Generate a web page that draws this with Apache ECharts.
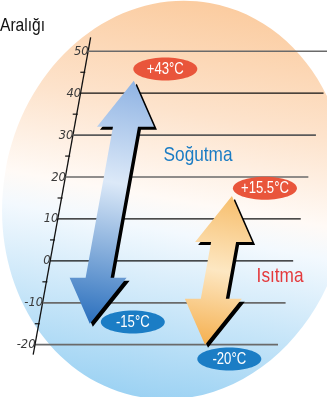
<!DOCTYPE html>
<html><head><meta charset="utf-8">
<script src="https://cdn.jsdelivr.net/npm/echarts@6/dist/echarts.min.js"></script>
<style>html,body{margin:0;padding:0;background:#fff;overflow:hidden}#c{width:327px;height:397px}</style>
</head><body><div id="c"></div>
<script>
// ---- data ----
const titleText = 'Aralığı';
const modes = ['Soğutma', 'Isıtma'];
const rangeMax = [43, 15.5];
const rangeMin = [-15, -20];
const maxLabels = ['+43°C', '+15.5°C'];
const minLabels = ['-15°C', '-20°C'];
const tickValues = [-20, -10, 0, 10, 20, 30, 40, 50];
const tickLabels = ['-20', '-10', '0', '10', '20', '30', '40', '50'];
const minorTickValues = [-15, -5, 5, 15, 25, 35, 45];

// ---- style / layout ----
const Y_MIN = -20, Y_MAX = 50;
const SKEW = 0.181;               // x shift per pixel of height (slanted axis)
const LINE_LEN = 243;             // gridline length (px)
const lineColors = ['#6a6a6a', '#6a6a6a', '#111', '#111', '#6a6a6a', '#5a5a5a', '#111', '#6a6a6a'];
const lineWidths = [1.8, 1.8, 1.2, 1.2, 1.6, 1.6, 1.2, 1.6];
const laneU = [51, 170];
const HEAD_PX = 46, HEAD_HW = 28.5, SHAFT_HW = 12.5;
const arrowStops = [
  [[0, '#8fb3e3'], [0.42, '#dce9f8'], [1, '#2a6fbd']],
  [[0, '#f7be6c'], [0.5, '#fde7c2'], [1, '#f5b050']]
];
const maxLabelColor = '#e9553b', minLabelColor = '#1b7dc5';
const maxLabelOff = [[31.5, -11.7], [33, -7.6]];
const minLabelOff = [[43, -1.7], [24.3, 14.3]];
const modeText = [{ dv: 25.3, du: 77.7, color: '#1a7cc4' }, { dv: -3.6, du: 62.6, color: '#e4393c' }];
const NARROW = "'Liberation Sans',Arial,sans-serif";
const CONDENSE = 0.82;

function sp(api, u, v) {
  const p = api.coord([u, v]);
  const b = api.coord([0, Y_MIN]);
  return [p[0] + SKEW * (b[1] - p[1]), p[1]];
}
function txt(x, y, text, font, fill, align, valign, sx) {
  return { type: 'text', x, y, scaleX: sx || 1,
    style: { x: 0, y: 0, text, font, fill, align, textAlign: align, verticalAlign: valign, textVerticalAlign: valign } };
}

const chart = echarts.init(document.getElementById('c'), null, { renderer: 'canvas' });
chart.setOption({
  animation: false,
  backgroundColor: '#fff',
  graphic: [{
    type: 'ellipse', x: 175, y: 200, rotation: -0.1745, z: -10,
    shape: { cx: 0, cy: 0, rx: 172, ry: 200 },
    style: { fill: new echarts.graphic.LinearGradient(0, 0, 0, 1, [
      { offset: 0, color: '#fbcca0' }, { offset: 0.28, color: '#fde3cc' },
      { offset: 0.5, color: '#fffaf6' }, { offset: 0.58, color: '#f3f9fe' },
      { offset: 1, color: '#9cd2f3' }]) }
  }, {
    type: 'text', x: 0, y: 26, scaleX: CONDENSE, z: 10,
    style: { x: 0, y: 0, text: titleText, font: '19px ' + NARROW, fill: '#111', align: 'left', textAlign: 'left', verticalAlign: 'middle', textVerticalAlign: 'middle' }
  }],
  grid: { left: 35, top: 51.3, width: LINE_LEN, height: 293.4 },
  xAxis: { type: 'value', min: 0, max: LINE_LEN, show: false },
  yAxis: { type: 'value', min: Y_MIN, max: Y_MAX, interval: 10, show: false },
  series: [
    { // gridlines + labels + slanted axis
      type: 'custom', clip: false, z: 2,
      data: tickValues.map(v => [0, v]),
      renderItem(params, api) {
        const v = api.value(1), i = params.dataIndex;
        const a = sp(api, 0, v), e = sp(api, LINE_LEN, v);
        const ch = [
          { type: 'line', shape: { x1: a[0], y1: a[1], x2: e[0], y2: e[1] }, style: { stroke: lineColors[i], lineWidth: lineWidths[i] } },
          txt(a[0] + 0.5, a[1] + 0.5, tickLabels[i], "italic 11.5px 'DejaVu Sans'", '#3a3a3a', 'right', 'middle')
        ];
        if (i === 0) {
          const ppu = api.size([0, 1])[1];
          const t = sp(api, 0, Y_MAX + 14 / ppu), b = sp(api, 0, Y_MIN - 10 / ppu);
          ch.push({ type: 'line', shape: { x1: t[0], y1: t[1], x2: b[0], y2: b[1] }, style: { stroke: '#111', lineWidth: 1.3 } });
        }
        return { type: 'group', children: ch };
      }
    },
    { // minor ticks
      type: 'custom', clip: false, z: 2,
      data: minorTickValues.map(v => [0, v]),
      renderItem(params, api) {
        const a = sp(api, 0, api.value(1));
        return { type: 'line', shape: { x1: a[0] - 4, y1: a[1], x2: a[0] + 1, y2: a[1] }, style: { stroke: '#111', lineWidth: 1.2 } };
      }
    },
    { // range arrows + labels
      type: 'custom', clip: false, z: 3,
      data: modes.map((m, i) => ({ name: m, value: [i, rangeMin[i], rangeMax[i]] })),
      renderItem(params, api) {
        const i = params.dataIndex;
        const vMin = api.value(1), vMax = api.value(2);
        const u0 = laneU[i];
        const ppu = api.size([0, 1])[1];
        const upx = api.size([1, 0])[0];
        const hv = HEAD_PX / ppu, hw = HEAD_HW / upx, sw = SHAFT_HW / upx;
        const uv = [[u0, vMax], [u0 + hw, vMax - hv], [u0 + sw, vMax - hv], [u0 + sw, vMin + hv], [u0 + hw, vMin + hv],
          [u0, vMin], [u0 - hw, vMin + hv], [u0 - sw, vMin + hv], [u0 - sw, vMax - hv], [u0 - hw, vMax - hv]];
        const pts = uv.map(q => sp(api, q[0], q[1]));
        const top = pts[0], bot = pts[5];
        const grad = new echarts.graphic.LinearGradient(top[0], top[1], bot[0], bot[1],
          arrowStops[i].map(s => ({ offset: s[0], color: s[1] })), true);
        const shadow = pts.map(p => [p[0] + 3, p[1] + 3]);
        const mo = maxLabelOff[i], no = minLabelOff[i];
        const mc = [top[0] + mo[0], top[1] + mo[1]], nc = [bot[0] + no[0], bot[1] + no[1]];
        const mt = modeText[i];
        const tp = sp(api, u0 + mt.du / upx, mt.dv);
        return { type: 'group', children: [
          { type: 'polygon', shape: { points: shadow }, style: { fill: '#000' } },
          { type: 'polygon', shape: { points: pts }, style: { fill: grad } },
          { type: 'ellipse', shape: { cx: mc[0], cy: mc[1], rx: 32, ry: 11.5 }, style: { fill: maxLabelColor } },
          txt(mc[0], mc[1] + 0.5, maxLabels[i], '16px ' + NARROW, '#fff', 'center', 'middle', CONDENSE),
          { type: 'ellipse', shape: { cx: nc[0], cy: nc[1], rx: 32, ry: 11.5 }, style: { fill: minLabelColor } },
          txt(nc[0], nc[1] + 0.5, minLabels[i], '16px ' + NARROW, '#fff', 'center', 'middle', CONDENSE),
          txt(tp[0], tp[1], modes[i], '21px ' + NARROW, mt.color, 'center', 'middle', CONDENSE)
        ] };
      }
    }
  ]
});
</script></body></html>
